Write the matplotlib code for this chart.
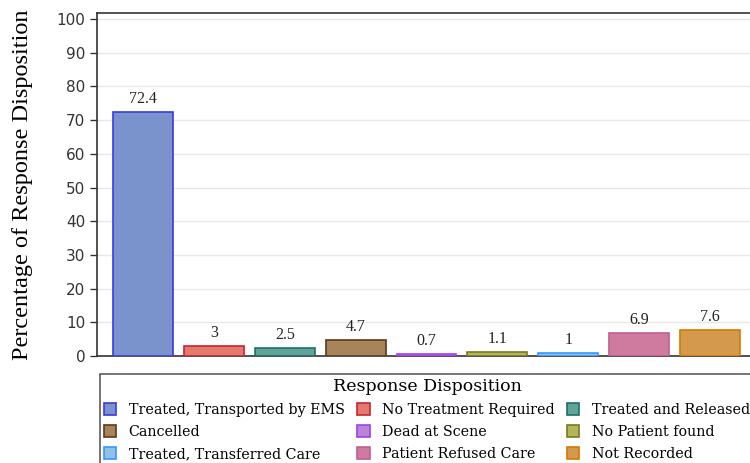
import matplotlib
matplotlib.use("Agg")
import matplotlib.pyplot as plt
import numpy as np

categories = ["Treated, Transported by EMS", "No Treatment Required", "Treated and Released",
              "Cancelled", "Dead at Scene", "No Patient found",
              "Treated, Transferred Care", "Patient Refused Care", "Not Recorded"]
values = [72.4, 3, 2.5, 4.7, 0.7, 1.1, 1, 6.9, 7.6]
labels = ["72.4", "3", "2.5", "4.7", "0.7", "1.1", "1", "6.9", "7.6"]
fills = ["#7b93cc", "#e07b6e", "#5fa39a", "#a8845a", "#b985d6",
         "#b5b55a", "#92c0ea", "#cf7a9f", "#d4994c"]
edges = ["#3a3ae0", "#cc2233", "#1f6f66", "#5a3a1a", "#a040ee",
         "#7a7a20", "#3399ff", "#c06090", "#d47a00"]

fig = plt.figure(figsize=(7.5, 4.63), dpi=100)
ax = fig.add_axes([97/750, 107/463, 659/750, 343/463])

x = np.arange(len(values))
bars = ax.bar(x, values, width=0.846, color=fills, edgecolor=edges, linewidth=1.2, zorder=3)
for xi, v, lab in zip(x, values, labels):
    ax.text(xi, v + 1.5, lab, ha="center", va="bottom", fontsize=11.5,
            family="Liberation Serif", color="#222222")

ax.set_xlim(-0.65, 8.65)
ax.set_ylim(0, 101.8)
ax.set_yticks(range(0, 101, 10))
ax.set_xticks([])
ax.grid(axis="y", color="#e8e8e8", linewidth=1, zorder=0)
ax.tick_params(axis="y", direction="out", length=5, width=1, color="#333333",
               labelsize=11, labelcolor="#333333")
for s in ["left", "bottom", "top"]:
    ax.spines[s].set_color("#333333")
    ax.spines[s].set_linewidth(1.2)
ax.spines["right"].set_visible(False)
ax.set_ylabel("Percentage of Response Disposition", family="Liberation Serif",
              fontsize=17.5)
ax.yaxis.set_label_coords(-64/659, 0.5)

# legend fills column-wise, so reorder to read row by row like the bars
order = [0, 3, 6, 1, 4, 7, 2, 5, 8]
handles = [bars[i] for i in order]
names = [categories[i] for i in order]
leg = fig.legend(handles, names, ncol=3, loc="upper left",
                 bbox_to_anchor=(100/750, 1 - 374/463), borderaxespad=0,
                 title="Response Disposition", fancybox=False, edgecolor="#333333",
                 prop={"family": "DejaVu Serif", "size": 10.3},
                 title_fontproperties={"family": "DejaVu Serif", "size": 12.5},
                 handlelength=0.85, handleheight=0.9, handletextpad=0.85,
                 columnspacing=0.9, labelspacing=0.55, borderpad=0.3)
leg.get_frame().set_linewidth(1.2)

fig.savefig("out.png", dpi=100)
